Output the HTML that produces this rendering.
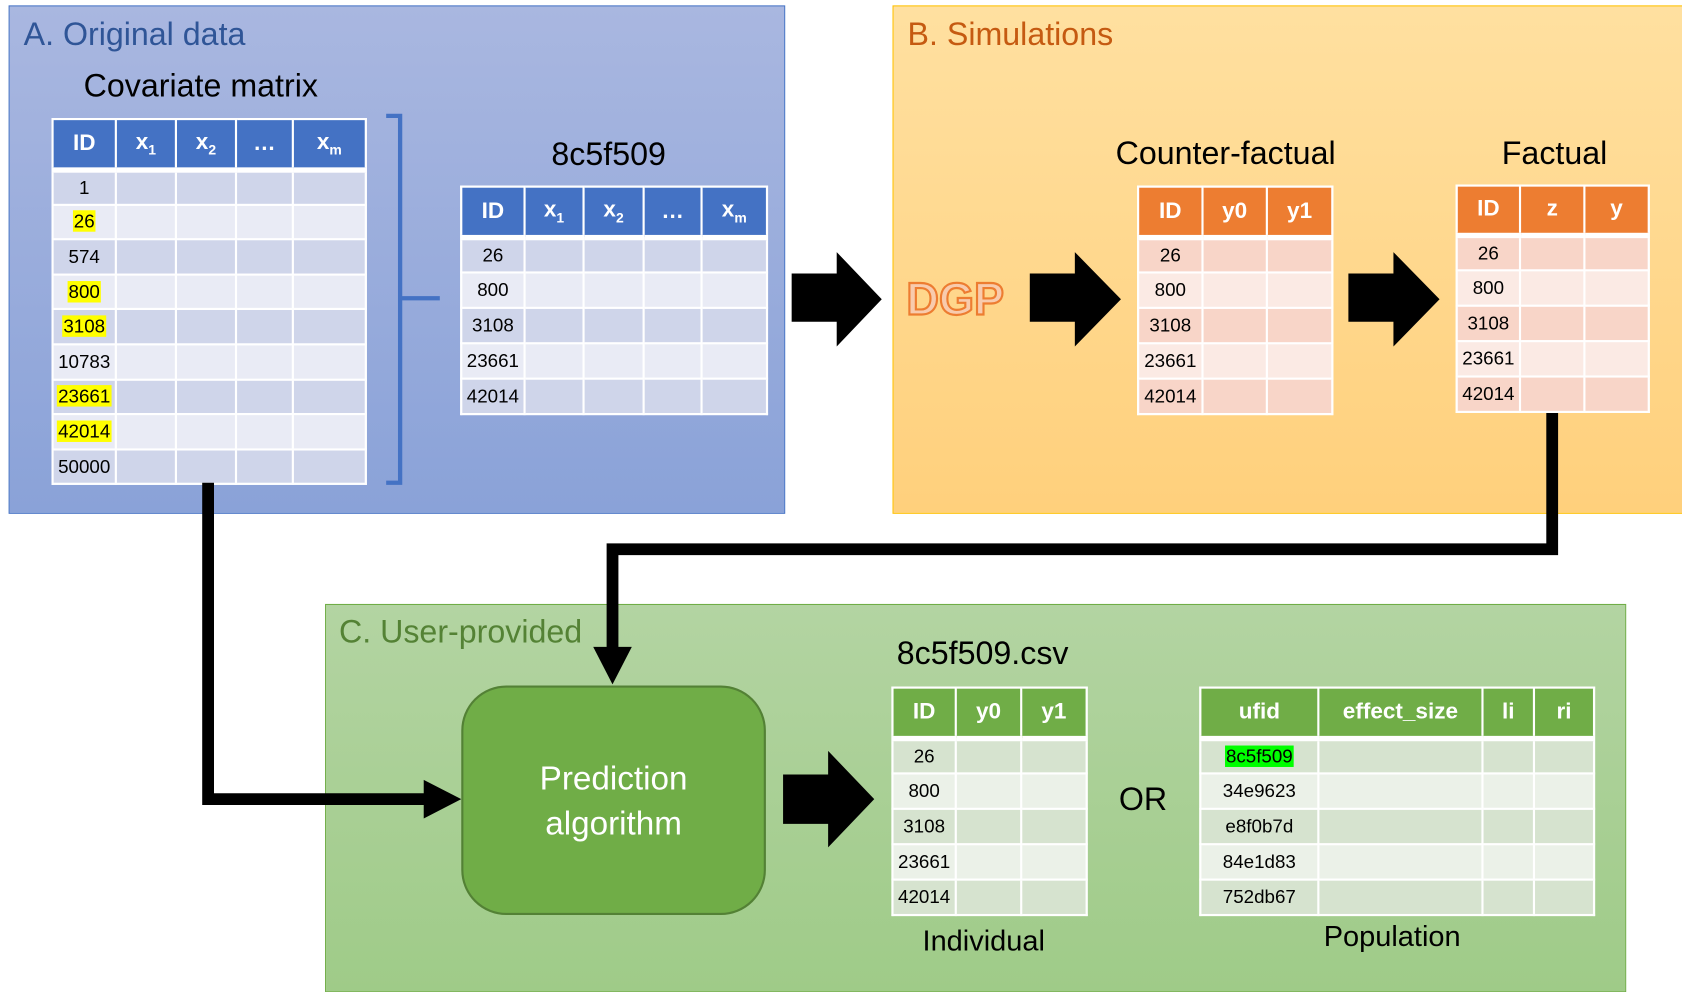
<!DOCTYPE html>
<html><head><meta charset="utf-8"><style>
html,body{margin:0;padding:0;width:1682px;height:992px;overflow:hidden;background:#fff;}
#w{position:absolute;left:0;top:0;width:1568px;height:925px;transform:scale(1.07270);transform-origin:0 0;font-family:"Liberation Sans",sans-serif;}
.box{position:absolute;box-sizing:border-box;}
.lbl{position:absolute;white-space:nowrap;line-height:1;}
table{position:absolute;border-collapse:collapse;table-layout:fixed;font-size:17.5px;background:#fff;}
td{border:2px solid #fff;padding:0;text-align:center;color:#000;}
tr.h td{color:#fff;font-weight:bold;font-size:21px;border-bottom:5px solid #fff;}
.bl tr.h td{background:#4472c4}.bl tr.a td{background:#cfd5ea}.bl tr.b td{background:#e9ebf5}
.or tr.h td{background:#ed7d31}.or tr.a td{background:#f8d5c8}.or tr.b td{background:#fbeae4}
.gr tr.h td{background:#70ad47}.gr tr.a td{background:#d6e3cf}.gr tr.b td{background:#ebf1e8}
sub{font-size:13px;}
.y{background:#ffff00;padding:0 1px}
.g{background:#00ff00;padding:0 1px}
</style></head><body><div id="w">
<div class="box" style="left:8px;top:5px;width:724px;height:474px;background:linear-gradient(#a9b7e0,#8aa2d8);border:1px solid #4472c4"></div>
<div class="box" style="left:832px;top:5px;width:740px;height:474px;background:linear-gradient(#ffe0a0,#ffd07c);border:1px solid #ffc000"></div>
<div class="box" style="left:303px;top:563px;width:1213px;height:362px;background:linear-gradient(#b3d4a2,#9fcb88);border:1px solid #70ad47"></div>

<div class="lbl" style="left:22px;top:18px;font-size:30px;color:#2f5597">A. Original data</div>
<div class="lbl" style="left:78px;top:66px;font-size:30px">Covariate matrix</div>
<div class="lbl" style="left:514px;top:130px;font-size:30px">8c5f509</div>
<div class="lbl" style="left:846px;top:18px;font-size:30px;color:#c55a11">B. Simulations</div>
<div class="lbl" style="left:1040px;top:129px;font-size:30px">Counter-factual</div>
<div class="lbl" style="left:1400px;top:129px;font-size:30px">Factual</div>
<div class="lbl" style="left:845px;top:258px;font-size:42px;font-weight:bold;color:#f8cbad;-webkit-text-stroke:2px #ed7d31">DGP</div>
<div class="lbl" style="left:316px;top:575px;font-size:30px;color:#548235">C. User-provided</div>
<div class="lbl" style="left:836px;top:595px;font-size:30px">8c5f509.csv</div>
<div class="lbl" style="left:1043px;top:731px;font-size:30px">OR</div>
<div class="lbl" style="left:860px;top:864px;font-size:27px">Individual</div>
<div class="lbl" style="left:1234px;top:860px;font-size:27px">Population</div>

<table class="bl" style="left:48px;top:110px;width:292px">
<col style="width:59px"><col style="width:56px"><col style="width:56px"><col style="width:53px"><col style="width:68px">
<tr class="h" style="height:47px"><td>ID</td><td>x<sub>1</sub></td><td>x<sub>2</sub></td><td>…</td><td>x<sub>m</sub></td></tr>
<tr class="a" style="height:32.6px"><td>1</td><td></td><td></td><td></td><td></td></tr>
<tr class="b" style="height:32.6px"><td><span class="y">26</span></td><td></td><td></td><td></td><td></td></tr>
<tr class="a" style="height:32.6px"><td>574</td><td></td><td></td><td></td><td></td></tr>
<tr class="b" style="height:32.6px"><td><span class="y">800</span></td><td></td><td></td><td></td><td></td></tr>
<tr class="a" style="height:32.6px"><td><span class="y">3108</span></td><td></td><td></td><td></td><td></td></tr>
<tr class="b" style="height:32.6px"><td>10783</td><td></td><td></td><td></td><td></td></tr>
<tr class="a" style="height:32.6px"><td><span class="y">23661</span></td><td></td><td></td><td></td><td></td></tr>
<tr class="b" style="height:32.6px"><td><span class="y">42014</span></td><td></td><td></td><td></td><td></td></tr>
<tr class="a" style="height:32.6px"><td>50000</td><td></td><td></td><td></td><td></td></tr>
</table>

<table class="bl" style="left:429px;top:173px;width:285px">
<col style="width:59px"><col style="width:55px"><col style="width:56px"><col style="width:54px"><col style="width:61px">
<tr class="h" style="height:47px"><td>ID</td><td>x<sub>1</sub></td><td>x<sub>2</sub></td><td>…</td><td>x<sub>m</sub></td></tr>
<tr class="a" style="height:33px"><td>26</td><td></td><td></td><td></td><td></td></tr>
<tr class="b" style="height:33px"><td>800</td><td></td><td></td><td></td><td></td></tr>
<tr class="a" style="height:33px"><td>3108</td><td></td><td></td><td></td><td></td></tr>
<tr class="b" style="height:33px"><td>23661</td><td></td><td></td><td></td><td></td></tr>
<tr class="a" style="height:33px"><td>42014</td><td></td><td></td><td></td><td></td></tr>
</table>

<table class="or" style="left:1060px;top:173px;width:181px">
<col style="width:60px"><col style="width:60px"><col style="width:61px">
<tr class="h" style="height:47px"><td>ID</td><td>y0</td><td>y1</td></tr>
<tr class="a" style="height:33px"><td>26</td><td></td><td></td></tr>
<tr class="b" style="height:33px"><td>800</td><td></td><td></td></tr>
<tr class="a" style="height:33px"><td>3108</td><td></td><td></td></tr>
<tr class="b" style="height:33px"><td>23661</td><td></td><td></td></tr>
<tr class="a" style="height:33px"><td>42014</td><td></td><td></td></tr>
</table>

<table class="or" style="left:1357px;top:172px;width:179px">
<col style="width:59px"><col style="width:60px"><col style="width:60px">
<tr class="h" style="height:46px"><td>ID</td><td>z</td><td>y</td></tr>
<tr class="a" style="height:33px"><td>26</td><td></td><td></td></tr>
<tr class="b" style="height:33px"><td>800</td><td></td><td></td></tr>
<tr class="a" style="height:33px"><td>3108</td><td></td><td></td></tr>
<tr class="b" style="height:33px"><td>23661</td><td></td><td></td></tr>
<tr class="a" style="height:33px"><td>42014</td><td></td><td></td></tr>
</table>

<table class="gr" style="left:831px;top:640px;width:181px">
<col style="width:59px"><col style="width:61px"><col style="width:61px">
<tr class="h" style="height:47px"><td>ID</td><td>y0</td><td>y1</td></tr>
<tr class="a" style="height:33px"><td>26</td><td></td><td></td></tr>
<tr class="b" style="height:33px"><td>800</td><td></td><td></td></tr>
<tr class="a" style="height:33px"><td>3108</td><td></td><td></td></tr>
<tr class="b" style="height:33px"><td>23661</td><td></td><td></td></tr>
<tr class="a" style="height:33px"><td>42014</td><td></td><td></td></tr>
</table>

<table class="gr" style="left:1118px;top:640px;width:367px">
<col style="width:110px"><col style="width:153px"><col style="width:48px"><col style="width:56px">
<tr class="h" style="height:47px"><td>ufid</td><td>effect_size</td><td>li</td><td>ri</td></tr>
<tr class="a" style="height:33px"><td><span class="g">8c5f509</span></td><td></td><td></td><td></td></tr>
<tr class="b" style="height:33px"><td>34e9623</td><td></td><td></td><td></td></tr>
<tr class="a" style="height:33px"><td>e8f0b7d</td><td></td><td></td><td></td></tr>
<tr class="b" style="height:33px"><td>84e1d83</td><td></td><td></td><td></td></tr>
<tr class="a" style="height:33px"><td>752db67</td><td></td><td></td><td></td></tr>
</table>

<div class="box" style="left:430px;top:639px;width:284px;height:214px;background:#70ad47;border:2px solid #538135;border-radius:42px"></div>
<div class="lbl" style="left:430px;top:705px;width:284px;text-align:center;font-size:31px;color:#fff;line-height:42px;white-space:normal">Prediction<br>algorithm</div>

<svg style="position:absolute;left:0;top:0" width="1568" height="925">
<path d="M360 108 H373 V450 H360 M373 278 H410" fill="none" stroke="#4472c4" stroke-width="4"/>
<polygon points="738,255 780,255 780,235 822,279 780,323 780,300 738,300" fill="#000"/>
<polygon points="960,255 1002,255 1002,235 1045,279 1002,323 1002,300 960,300" fill="#000"/>
<polygon points="1257,255 1299,255 1299,235 1342,279 1299,323 1299,300 1257,300" fill="#000"/>
<polygon points="730,722 772,722 772,700 815,745 772,790 772,768 730,768" fill="#000"/>
<path d="M194 450 V745 H398" fill="none" stroke="#000" stroke-width="11"/>
<polygon points="395,727 430,745 395,763" fill="#000"/>
<path d="M1447 385 V512 H571 V606" fill="none" stroke="#000" stroke-width="11"/>
<polygon points="553,603 589,603 571,638" fill="#000"/>
</svg>
</div></body></html>
